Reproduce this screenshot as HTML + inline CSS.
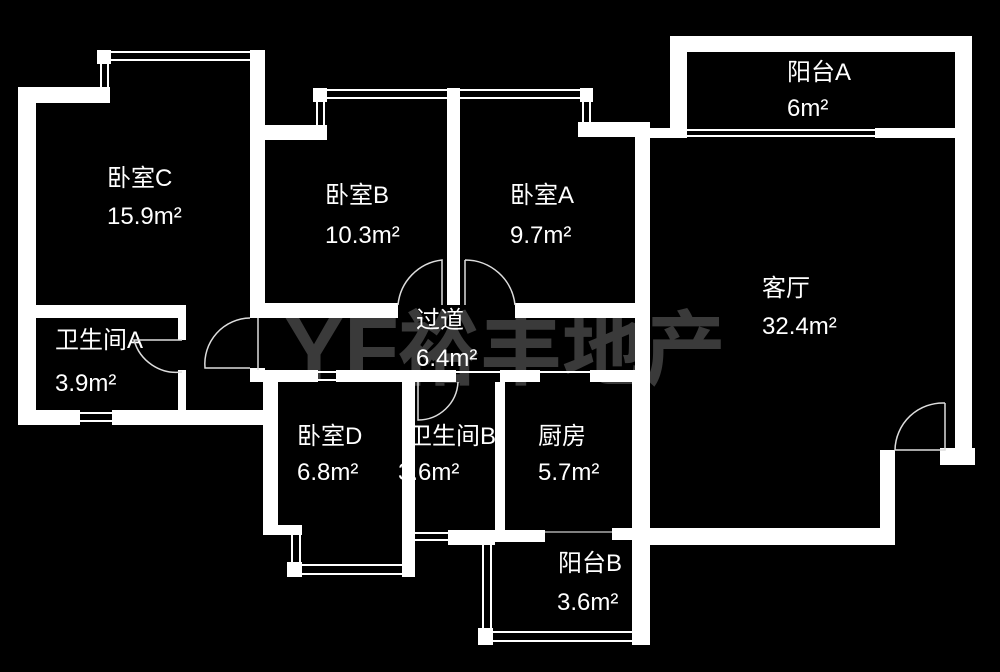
<!DOCTYPE html>
<html><head><meta charset="utf-8"><style>
html,body{margin:0;padding:0;background:#000;}
svg{display:block}
text{font-family:"Liberation Sans","Noto Sans CJK SC",sans-serif;fill:#fff;font-size:24px}
.wm{fill:#3a3a3a;font-size:82px;font-weight:bold}
</style></head><body>
<svg width="1000" height="672" viewBox="0 0 1000 672" xmlns="http://www.w3.org/2000/svg">
<rect width="1000" height="672" fill="#000"/>
<!-- watermark -->
<text class="wm" x="284" y="380" style="font-family:'Liberation Sans',sans-serif;font-size:90px">YF</text>
<text class="wm" x="398" y="378">裕丰地产</text>
<!-- labels -->
<text x="107" y="186">卧室C</text><text x="107" y="224">15.9m²</text>
<text x="325" y="203">卧室B</text><text x="325" y="243">10.3m²</text>
<text x="510" y="203">卧室A</text><text x="510" y="243">9.7m²</text>
<text x="787" y="80">阳台A</text><text x="787" y="116">6m²</text>
<text x="762" y="296">客厅</text><text x="762" y="334">32.4m²</text>
<text x="416" y="328">过道</text><text x="416" y="366">6.4m²</text>
<text x="55" y="348">卫生间A</text><text x="55" y="391">3.9m²</text>
<text x="297" y="444">卧室D</text><text x="297" y="480">6.8m²</text>
<text x="408" y="444">卫生间B</text><text x="398" y="480">3.6m²</text>
<text x="538" y="444">厨房</text><text x="538" y="480">5.7m²</text>
<text x="558" y="571">阳台B</text><text x="557" y="610">3.6m²</text>
<g fill="#fff">
<!-- Bedroom C -->
<rect x="18" y="87" width="18" height="338"/>
<rect x="18" y="87" width="92" height="16"/>
<rect x="97" y="50" width="14" height="14"/>
<rect x="250" y="50" width="15" height="268"/>
<rect x="250" y="368" width="15" height="14"/>
<rect x="36" y="305" width="149" height="13"/>
<rect x="178" y="305" width="8" height="35"/>
<rect x="178" y="370" width="8" height="45"/>
<rect x="18" y="410" width="62" height="15"/>
<rect x="112" y="410" width="153" height="15"/>
<!-- Bedroom B/A top -->
<rect x="265" y="125" width="62" height="15"/>
<rect x="313" y="88" width="14" height="14"/>
<rect x="447" y="88" width="13" height="217"/>
<rect x="580" y="88" width="13" height="14"/>
<rect x="578" y="122" width="72" height="15"/>
<!-- corridor -->
<rect x="258" y="303" width="140" height="15"/>
<rect x="515" y="303" width="135" height="15"/>
<rect x="258" y="370" width="60" height="12"/>
<rect x="336" y="370" width="120" height="12"/>
<rect x="500" y="370" width="40" height="12"/>
<rect x="590" y="370" width="60" height="12"/>
<!-- Bedroom D -->
<rect x="263" y="375" width="15" height="160"/>
<rect x="263" y="525" width="39" height="10"/>
<rect x="287" y="562" width="15" height="15"/>
<rect x="402" y="375" width="13" height="202"/>
<!-- Bath B -->
<rect x="495" y="382" width="10" height="155"/>
<rect x="448" y="530" width="47" height="15"/>
<rect x="480" y="530" width="65" height="12"/>
<rect x="612" y="528" width="38" height="12"/>
<!-- Balcony B -->
<rect x="478" y="628" width="15" height="17"/>
<rect x="632" y="375" width="18" height="270"/>
<!-- Living -->
<rect x="635" y="135" width="15" height="410"/>
<rect x="650" y="528" width="245" height="17"/>
<rect x="880" y="450" width="15" height="95"/>
<rect x="940" y="448" width="35" height="17"/>
<rect x="955" y="36" width="17" height="429"/>
<rect x="670" y="36" width="302" height="16"/>
<rect x="670" y="36" width="17" height="102"/>
<rect x="875" y="128" width="80" height="10"/>
<rect x="635" y="128" width="52" height="10"/>
</g>
<!-- windows -->
<g stroke="#fff" stroke-width="2" fill="none">
<path d="M110 52H250M110 60H250"/>
<path d="M101 64V87M108 64V87"/>
<path d="M327 90H580M327 98H580"/>
<path d="M583 102V122M590 102V122"/>
<path d="M317 102V125M324 102V125"/>
<path d="M80 413H112M80 421H112"/>
<path d="M687 130H875M687 136H875"/>
<path d="M302 565H402M302 574H402"/>
<path d="M292 535V562M300 535V562"/>
<path d="M415 533H448M415 540H448"/>
<path d="M483 545V628M491 545V628"/>
<path d="M493 632H632M493 641H632"/>
<path d="M545 532H612" stroke-width="1"/>
<path d="M318 372H336M318 380H336M456 372H500M540 372H590"/>
</g>
<!-- doors -->
<g stroke="#ddd" stroke-width="1.5" fill="none">
<path d="M398 305A50 50 0 0 1 442 260V305"/>
<path d="M465 260V305M465 260A50 50 0 0 1 515 305"/>
<path d="M250 318A46 46 0 0 0 205 368H250"/>
<path d="M182 340H134A44 44 0 0 0 182 372"/>
<path d="M418 382V420A40 40 0 0 0 458 382"/>
<path d="M945 403A48 48 0 0 0 895 450H945V403"/>
<path d="M258 318V370"/>
</g>
</svg>
</body></html>
